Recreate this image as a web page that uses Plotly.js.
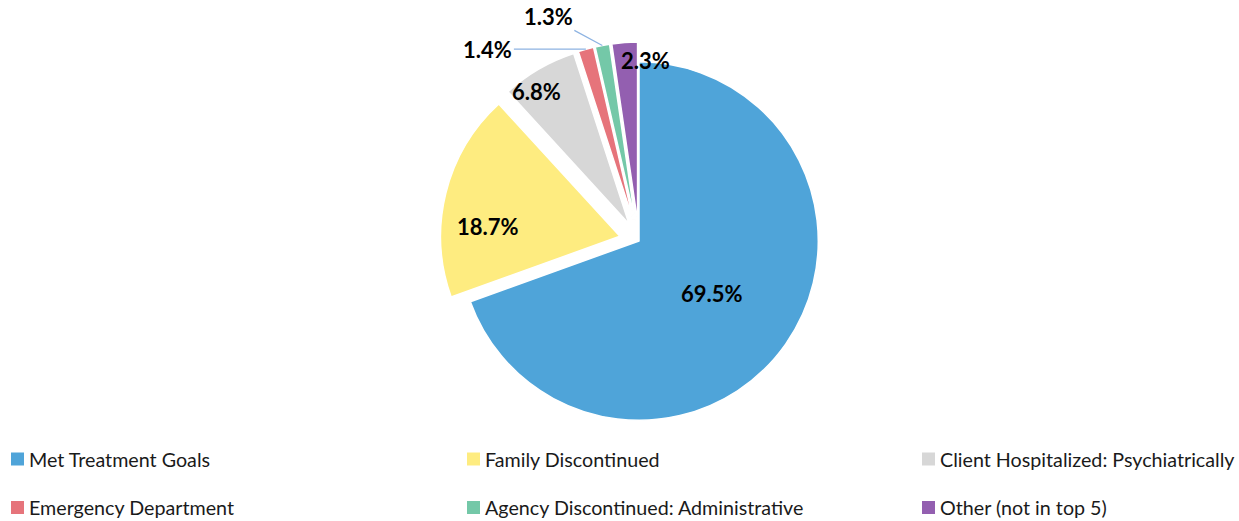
<!DOCTYPE html>
<html>
<head>
<meta charset="utf-8">
<script src="https://cdn.plot.ly/plotly-3.0.1.min.js"></script>
<style>html,body{margin:0;padding:0;background:#fff;}#chart{width:1239px;height:521px;}</style>
</head>
<body>
<div id="chart"></div>
<script>
// ---- data ----
const categories = [
  "Met Treatment Goals",
  "Family Discontinued",
  "Client Hospitalized: Psychiatrically",
  "Emergency Department",
  "Agency Discontinued: Administrative",
  "Other (not in top 5)"
];
const percentValues = [69.5, 18.7, 6.8, 1.4, 1.3, 2.3];
const percentLabels = ["69.5%", "18.7%", "6.8%", "1.4%", "1.3%", "2.3%"];

// ---- style ----
const sliceColors = ["#4FA4D9", "#FEEC80", "#D7D7D7", "#E6747B", "#74C8A8", "#935FB0"];
const slicePull = [0, 0.11, 0.11, 0.11, 0.11, 0.11];
// label placement: distance from slice apex (fraction of radius) along mid-angle, plus pixel nudge
const labelDist = [0.5, 0.74, 0.9, 1.0, 1.0, 0.9];
const labelNudge = [[0, 1], [-3, 22], [-11, 7], [0, 0], [0, 0], [20, 0]];
// leader-line labels: pixel offset of text from slice edge point
const leaderOffset = [null, null, null, [-98, 0], [-54, -29], null];

const W = 1239, H = 521;
const margin = {l: 0, r: 0, t: 42, b: 81};
const plotW = W - margin.l - margin.r, plotH = H - margin.t - margin.b;
const cxTarget = 639;
const domHalf = 0.2;
const domX = [cxTarget / plotW - domHalf, cxTarget / plotW + domHalf];

const labelFont = {family: "Lato, 'Open Sans', sans-serif", size: 22, color: "#000"};
const legendFont = {family: "Lato, 'Open Sans', sans-serif", size: 19.7, color: "#1a1a1a"};

const trace = {
  type: "pie",
  labels: categories,
  values: percentValues,
  sort: false,
  direction: "clockwise",
  rotation: 0,
  pull: slicePull,
  marker: {colors: sliceColors, line: {color: "#ffffff", width: 1.5}},
  textinfo: "none",
  hoverinfo: "label+percent",
  domain: {x: domX, y: [0, 1]},
  showlegend: false
};

// manual legend (3 columns x 2 rows) built from categories & colors
const legendColX = [11, 467, 922];
const legendRowY = [459, 507.5];
const swatch = 13, textGap = 3;
function px2paperX(px) { return (px - margin.l) / plotW; }
function px2paperY(py) { return 1 - (py - margin.t) / plotH; }

const shapes = [];
const annotations = [];
categories.forEach((name, i) => {
  const col = i % 3, row = Math.floor(i / 3);
  const x0 = legendColX[col], yc = legendRowY[row];
  shapes.push({
    type: "rect", xref: "paper", yref: "paper",
    x0: px2paperX(x0), x1: px2paperX(x0 + swatch),
    y0: px2paperY(yc + swatch / 2), y1: px2paperY(yc - swatch / 2),
    fillcolor: sliceColors[i], line: {width: 0}
  });
  annotations.push({
    xref: "paper", yref: "paper",
    x: px2paperX(x0 + swatch + textGap), y: px2paperY(yc),
    xanchor: "left", yanchor: "middle",
    text: name, showarrow: false, font: legendFont
  });
});

const layout = {
  width: W, height: H,
  margin: margin,
  paper_bgcolor: "#ffffff",
  plot_bgcolor: "#ffffff",
  showlegend: false,
  shapes: shapes,
  annotations: annotations
};

const gd = document.getElementById("chart");
Plotly.newPlot(gd, [trace], layout, {displayModeBar: false, staticPlot: true}).then(() => {
  let cx, cy, r;
  try {
    const cd0 = gd.calcdata[0][0];
    cx = cd0.cx; cy = cd0.cy; r = cd0.r;
  } catch (e) {}
  if (!r) {
    const bw = plotW * (domX[1] - domX[0]), bh = plotH;
    r = Math.min(bw, bh) / 2 / (1 + Math.max(...slicePull));
    cx = margin.l + plotW * (domX[0] + domX[1]) / 2;
    cy = margin.t + plotH / 2;
  }
  const total = percentValues.reduce((a, b) => a + b, 0);
  let cum = 0;
  const newAnn = annotations.slice();
  percentValues.forEach((v, i) => {
    const mid = (cum + v / 2) / total * 2 * Math.PI; // clockwise from top
    cum += v;
    const ux = Math.sin(mid), uy = -Math.cos(mid);
    const ax0 = cx + slicePull[i] * r * ux, ay0 = cy + slicePull[i] * r * uy;
    const px = ax0 + labelDist[i] * r * ux;
    const py = ay0 + labelDist[i] * r * uy;
    if (leaderOffset[i]) {
      newAnn.push({
        xref: "paper", yref: "paper",
        x: px2paperX(px), y: px2paperY(py),
        ax: leaderOffset[i][0], ay: leaderOffset[i][1],
        axref: "pixel", ayref: "pixel",
        text: "<b>" + percentLabels[i] + "</b>",
        showarrow: true, arrowhead: 0, arrowwidth: 1.2, arrowcolor: "#8DB3E2",
        standoff: 0, startstandoff: 0,
        font: labelFont
      });
    } else {
      newAnn.push({
        xref: "paper", yref: "paper",
        x: px2paperX(px + labelNudge[i][0]), y: px2paperY(py + labelNudge[i][1]),
        xanchor: "center", yanchor: "middle",
        text: "<b>" + percentLabels[i] + "</b>",
        showarrow: false, font: labelFont
      });
    }
  });
  return Plotly.relayout(gd, {annotations: newAnn});
});
</script>
</body>
</html>
